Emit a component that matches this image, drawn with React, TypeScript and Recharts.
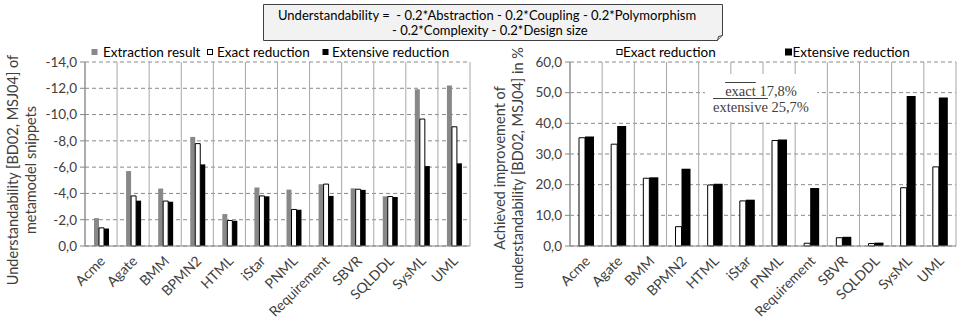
import React from 'react';
import { BarChart, Bar, XAxis, YAxis, CartesianGrid, Legend } from 'recharts';

const categories = ['Acme', 'Agate', 'BMM', 'BPMN2', 'HTML', 'iStar', 'PNML', 'Requirement', 'SBVR', 'SQLDDL', 'SysML', 'UML'];
const extractionResult = [-2.12, -5.7, -4.37, -8.3, -2.43, -4.45, -4.29, -4.7, -4.39, -3.78, -11.93, -12.21];
const exactReduction = [-1.38, -3.81, -3.42, -7.79, -1.94, -3.81, -2.78, -4.71, -4.32, -3.76, -9.66, -9.07];
const extensiveReduction = [-1.33, -3.45, -3.37, -6.21, -1.92, -3.78, -2.76, -3.81, -4.27, -3.73, -6.08, -6.29];
const exactImprovement = [35.3, 33.2, 22.1, 6.3, 19.9, 14.7, 34.4, 0.9, 2.7, 0.8, 19.0, 25.8];
const extensiveImprovement = [35.7, 39.1, 22.4, 25.2, 20.3, 15.1, 34.7, 18.9, 3.0, 1.1, 48.9, 48.4];
const leftTicks = [-14, -12, -10, -8, -6, -4, -2, 0];
const rightTicks = [0, 10, 20, 30, 40, 50, 60];

const leftData = categories.map((c, i) => ({ name: c, extraction: extractionResult[i], exact: exactReduction[i], extensive: extensiveReduction[i] }));
const rightData = categories.map((c, i) => ({ name: c, exact: exactImprovement[i], extensive: extensiveImprovement[i] }));

const FONT = 'Lato, "Open Sans", sans-serif';
const SERIF = '"Liberation Serif", "DejaVu Serif", serif';
const TEXT = '#404040';
const fmt = (v: number) => (v < 0 ? '-' : '') + Math.abs(v).toFixed(1).replace('.', ',');

const CatTick = (props: any) => {
  const ex = Number(props.x) + 5;
  const ey = Number(props.y) + 16;
  return (
    <g transform={`translate(${ex} ${ey}) rotate(-45)`}>
      <text x={0} y={0} textAnchor="end" fontSize={14} fontFamily={FONT} fill={TEXT}>
        {props.payload.value}
      </text>
    </g>
  );
};

const vGen = (props: any) => {
  const o = props.offset;
  const out: number[] = [];
  for (let i = 0; i <= categories.length; i++) out.push(o.left + (i * o.width) / categories.length);
  return out;
};

const YLabel = (lines: string[], cx: number[], cy: number) => () => (
  <g>
    {lines.map((l, i) => (
      <text key={i} x={cx[i]} y={cy} transform={`rotate(-90 ${cx[i]} ${cy})`} textAnchor="middle" dominantBaseline="central" fontSize={14.5} fontFamily={FONT} fill={TEXT}>
        {l}
      </text>
    ))}
  </g>
);

type LegItem = { x: number; label: string; fill: string; stroke?: string; size: number; tx: number };
const LegendContent = (items: LegItem[]) => () => (
  <svg width={480} height={16} style={{ display: 'block', overflow: 'visible' }}>
    {items.map((it, i) => (
      <g key={i}>
        <rect x={it.x} y={8 - it.size / 2} width={it.size} height={it.size} fill={it.fill} stroke={it.stroke || 'none'} strokeWidth={1} />
        <text x={it.tx} y={8} dominantBaseline="central" fontSize={13.5} fontFamily={FONT} fill="#000">{it.label}</text>
      </g>
    ))}
  </svg>
);

const leftLegend: LegItem[] = [
  { x: 91.5, label: 'Extraction result', fill: '#888888', size: 6, tx: 103 },
  { x: 207.5, label: 'Exact reduction', fill: '#ffffff', stroke: '#000', size: 5, tx: 217 },
  { x: 322.5, label: 'Extensive reduction', fill: '#000000', size: 6, tx: 332 },
];
const rightLegend: LegItem[] = [
  { x: 137, label: 'Exact reduction', fill: '#ffffff', stroke: '#000', size: 5, tx: 143 },
  { x: 305, label: 'Extensive reduction', fill: '#000000', size: 7, tx: 312.5 },
];

export default function App() {
  return (
    <div style={{ position: 'absolute', left: 0, top: 0, width: 957, height: 320, background: '#fff', overflow: 'hidden', fontFamily: FONT }}>
      <div style={{ position: 'absolute', left: 0, top: 0 }}>
        <BarChart width={480} height={320} data={leftData} margin={{ top: 62, right: 10, bottom: 14, left: 0 }} barGap={0}>
          <CartesianGrid horizontal={true} vertical={false} stroke="#8a8a8a" strokeDasharray="4 3" />
          <CartesianGrid horizontal={false} vertical={true} stroke="#a6a6a6" verticalCoordinatesGenerator={vGen} />
          <XAxis dataKey="name" height={60} interval={0} tick={<CatTick />} tickLine={false} tickSize={0} tickMargin={0} axisLine={{ stroke: '#868686' }} />
          <YAxis width={85} domain={[-14, 0]} reversed ticks={leftTicks} tickFormatter={fmt} tickSize={5} tickMargin={3} tick={{ fontSize: 13.5, fontFamily: FONT, fill: TEXT }} axisLine={{ stroke: '#868686' }} tickLine={{ stroke: '#868686' }}
            label={{ content: YLabel(['Understandability [BD02, MSJ04] of', 'metamodel snippets'], [12, 30], 170) } as any} />
          <Legend layout="horizontal" verticalAlign="middle" align="center" wrapperStyle={{ position: 'absolute', left: 0, top: 44, width: 480, height: 16 }} content={LegendContent(leftLegend)} />
          <Bar dataKey="extraction" fill="#888888" barSize={5} isAnimationActive={false} />
          <Bar dataKey="exact" fill="#ffffff" stroke="#000" strokeWidth={1} barSize={5} isAnimationActive={false} />
          <Bar dataKey="extensive" fill="#000000" barSize={5} isAnimationActive={false} />
        </BarChart>
      </div>
      <div style={{ position: 'absolute', left: 480, top: 0 }}>
        <BarChart width={477} height={320} data={rightData} margin={{ top: 62, right: 1, bottom: 14, left: 0 }} barGap={0}>
          <CartesianGrid horizontal={true} vertical={false} stroke="#8a8a8a" strokeDasharray="4 3" />
          <CartesianGrid horizontal={false} vertical={true} stroke="#a6a6a6" verticalCoordinatesGenerator={vGen} />
          <XAxis dataKey="name" height={60} interval={0} tick={<CatTick />} tickLine={false} tickSize={0} tickMargin={0} axisLine={{ stroke: '#868686' }} />
          <YAxis width={90} domain={[0, 60]} ticks={rightTicks} tickFormatter={fmt} tickSize={5} tickMargin={3} tick={{ fontSize: 13.5, fontFamily: FONT, fill: TEXT }} axisLine={{ stroke: '#868686' }} tickLine={{ stroke: '#868686' }}
            label={{ content: YLabel(['Achieved improvement of', 'understandability [BD02, MSJ04] in %'], [19, 37], 168) } as any} />
          <Legend layout="horizontal" verticalAlign="middle" align="center" wrapperStyle={{ position: 'absolute', left: 0, top: 44, width: 477, height: 16 }} content={LegendContent(rightLegend)} />
          <Bar dataKey="exact" fill="#ffffff" stroke="#000" strokeWidth={1} barSize={6} isAnimationActive={false} />
          <Bar dataKey="extensive" fill="#000000" barSize={9} isAnimationActive={false} />
        </BarChart>
      </div>
      <div style={{ position: 'absolute', left: 705, top: 74, width: 112, height: 48, background: '#fff', fontFamily: SERIF, fontSize: 14.5, lineHeight: '16px', color: '#404040', textAlign: 'center', whiteSpace: 'nowrap' }}>
        <div style={{ marginTop: 9 }}><span style={{ textDecoration: 'overline' }}>exact</span> 17,8%</div>
        <div><span style={{ textDecoration: 'overline' }}>extensive</span> 25,7%</div>
      </div>
      <svg style={{ position: 'absolute', left: 0, top: 0 }} width={957} height={45}>
        <path d="M263.5,4.5 H722.5 V35.5 L717.5,40.5 H263.5 Z" fill="#f2f2f2" stroke="#404040" strokeWidth={1} />
        <path d="M717.5,40.5 L718.5,36.5 L722.5,35.5" fill="#d0d0d0" stroke="#404040" strokeWidth={1} />
        <text x={278} y={19.5} fontSize={13} fontFamily={FONT} fill="#000" style={{ whiteSpace: 'pre' }}>Understandability =  - 0.2*Abstraction - 0.2*Coupling - 0.2*Polymorphism</text>
        <text x={392} y={34.5} fontSize={13} fontFamily={FONT} fill="#000">- 0.2*Complexity - 0.2*Design size</text>
      </svg>
    </div>
  );
}
